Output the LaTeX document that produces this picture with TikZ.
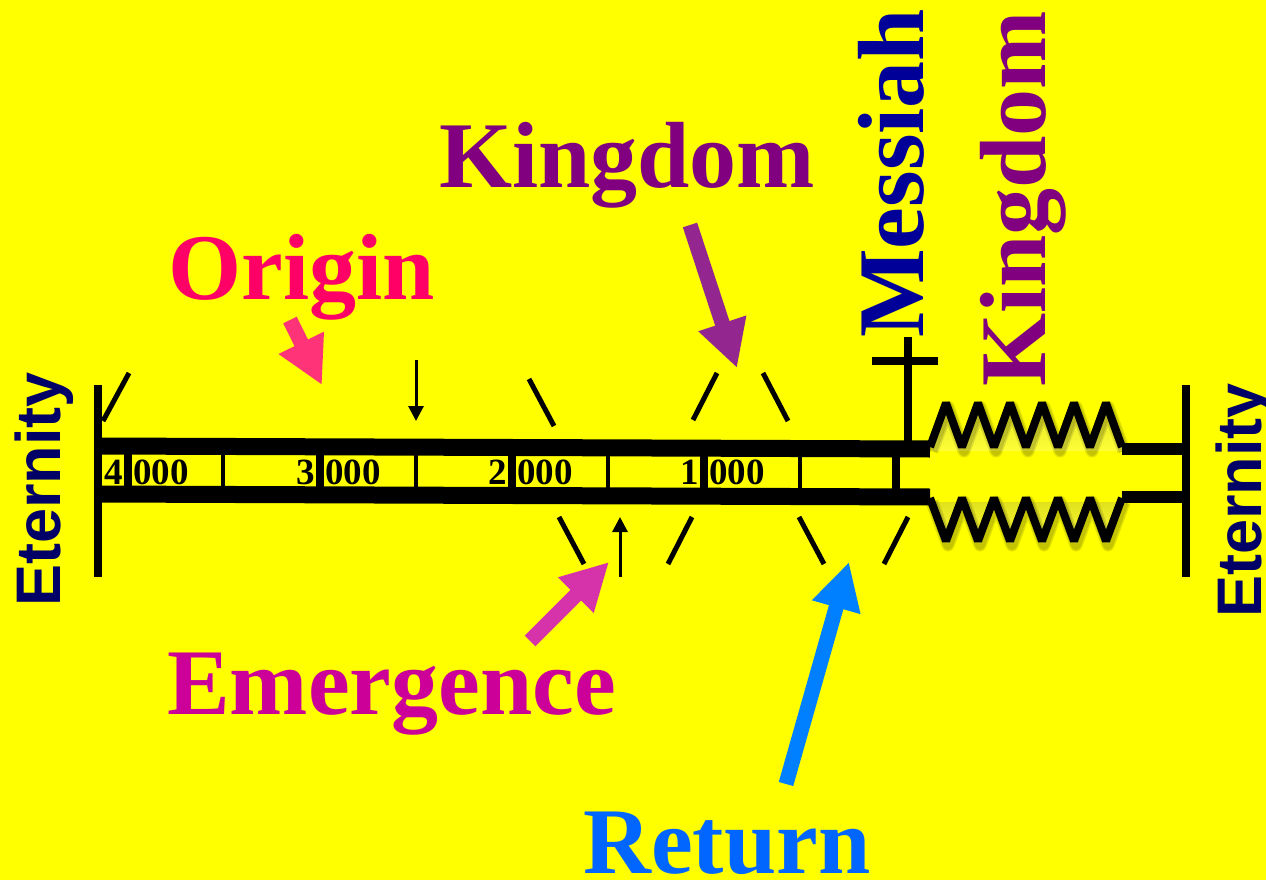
\documentclass[tikz,border=0pt]{standalone}
\usepackage{fontspec}
\setmainfont{Liberation Serif}
\newfontfamily\arialfont{Liberation Sans}
\usetikzlibrary{arrows.meta, positioning}
\definecolor{bg}{HTML}{FFFF00}
\definecolor{kingpurple}{HTML}{800080}
\definecolor{kingarrow}{HTML}{93278F}
\definecolor{originpink}{HTML}{FF0066}
\definecolor{originarrow}{HTML}{FF3377}
\definecolor{emergemag}{HTML}{CC0099}
\definecolor{emergearrow}{HTML}{D633AA}
\definecolor{returnblue}{HTML}{0066FF}
\definecolor{returnarrow}{HTML}{0080FF}
\definecolor{messiahblue}{HTML}{000099}
\definecolor{eternblue}{HTML}{000066}
\definecolor{shade}{HTML}{3A3A00}

\begin{document}
\begin{tikzpicture}[x=1pt, y=-1pt,
    big/.style={font=\fontsize{94}{94}\selectfont\bfseries, inner sep=0pt, anchor=base west, text depth=0pt},
    eternal/.style={font=\fontsize{63}{63}\selectfont\arialfont\bfseries, text=eternblue, inner sep=0pt, rotate=90, anchor=base west},
    year/.style={font=\fontsize{37}{37}\selectfont\bfseries, inner sep=0pt},
    band/.style={line width=17pt},
    slashmark/.style={line width=5pt},
    bigarrow/.style={line width=15pt, -{Triangle[length=47pt, width=47pt]}},
    smallarrow/.style={line width=3pt, -{Triangle[length=15pt, width=15pt]}},
    zig/.style={line width=8pt, line join=bevel},
    zigshadow/.style={line width=#1, line join=round, shade, opacity=.12, shift={(2,4)}}]

  \fill[bg] (0,0) rectangle (1266,880);
  \clip (0,0) rectangle (1266,880);

  % the time line
  \draw[band] (98,446) -- (930,449);
  \draw[band] (98,494) -- (930,497);
  \draw[line width=8pt] (98,385) -- (98,577);
  \draw[line width=8pt] (1186,385) -- (1186,577);
  \foreach \x in {223,416,608,800}
    \draw[line width=4pt] (\x,450) -- (\x,495);
  \foreach \x in {128,320,512,704,896}
    \draw[line width=8pt] (\x,450) -- (\x,495);

  \foreach \n/\x in {4/128, 3/320, 2/512, 1/704} {
    \node[year, anchor=base east] (d\n) at (\x-5,484) {\n};
    \node[year, anchor=base west] (t\n) at (\x+5,484) {000};
  }

  % slashes
  \draw[slashmark] (103,421) -- (129,373);
  \draw[slashmark] (529,379) -- (554,426);
  \draw[slashmark] (693,420) -- (717,373);
  \draw[slashmark] (763,373) -- (788,421);
  \draw[slashmark] (559,517) -- (584,564);
  \draw[slashmark] (692,517) -- (668,564);
  \draw[slashmark] (799,517) -- (824,564);
  \draw[slashmark] (908,517) -- (884,564);

  \draw[smallarrow] (416,360) -- (416,421);
  \draw[smallarrow] (620,577) -- (620,517);

  % cross
  \draw[line width=8pt] (908,337) -- (908,442);
  \draw[line width=8pt] (872,361) -- (938,361);

  % kingdom springs, soft shadow first
  \foreach \w in {13,10} {
    \draw[zigshadow=\w] (930,447) \foreach \k in {1,...,12} { -- ({930+16*\k},{447-44*mod(\k,2)}) };
    \draw[zigshadow=\w] (930,498) \foreach \k in {1,...,12} { -- ({930+16*\k},{498+43*mod(\k,2)}) };
  }
  \draw[zig] (930,447) \foreach \k in {1,...,12} { -- ({930+16*\k},{447-44*mod(\k,2)}) };
  \draw[zig] (930,498) \foreach \k in {1,...,12} { -- ({930+16*\k},{498+43*mod(\k,2)}) };
  \draw[line width=12pt] (1122,449) -- (1186,449);
  \draw[line width=12pt] (1122,497) -- (1186,497);

  % labels
  \node[big, text=originpink] (origin) at (168,299) {Origin};
  \node[big, text=kingpurple] (kingdom) at (439,187) {Kingdom};
  \node[big, text=emergemag] (emergence) at (167,714) {Emergence};
  \node[big, text=returnblue] (return) at (583,873) {Return};
  \node[big, text=messiahblue, rotate=90] (messiah) at (923,338) {Messiah};
  \node[big, text=kingpurple, rotate=90] (kingdom2) at (1045,387) {Kingdom};
  \node[eternal] (eternleft) at (60,607) {Eternity};
  \node[eternal] (eternright) at (1261,618) {Eternity};

  % pointers
  \coordinate (otail) at (290,320);
  \coordinate (otip) at (322,385);
  \coordinate (ktail) at (690,225);
  \coordinate (ktip) at (737,368);
  \coordinate (etail) at (530,641);
  \coordinate (etip) at (609,562);
  \coordinate (rtail) at (786,784);
  \coordinate (rtip) at (849,562);
  \draw[bigarrow, originarrow] (otail) -- (otip);
  \draw[bigarrow, kingarrow] (ktail) -- (ktip);
  \draw[bigarrow, emergearrow] (etail) -- (etip);
  \draw[bigarrow, returnarrow] (rtail) -- (rtip);
\end{tikzpicture}
\end{document}
